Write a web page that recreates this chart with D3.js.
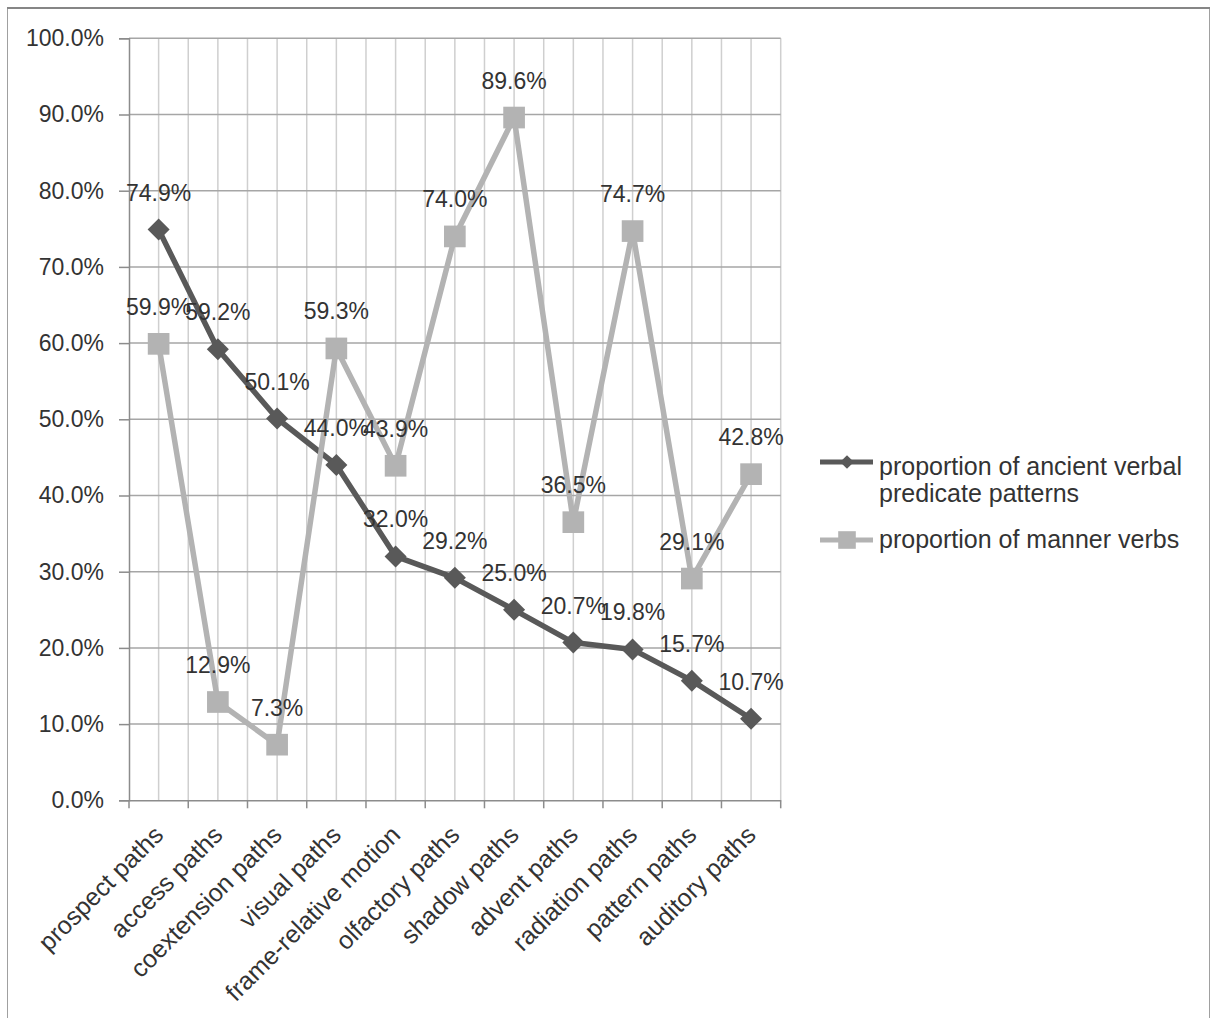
<!DOCTYPE html>
<html>
<head>
<meta charset="utf-8">
<script src="https://cdn.jsdelivr.net/npm/d3@7"></script>
<style>
  body { margin: 0; background: #fff; }
  text { font-family: "Liberation Sans", Arial, sans-serif; fill: #333; }
</style>
</head>
<body>
<script>
let categories = ["prospect paths", "access paths", "coextension paths", "visual paths",
  "frame-relative motion", "olfactory paths", "shadow paths", "advent paths",
  "radiation paths", "pattern paths", "auditory paths"]
let ancientVerbal = [74.9, 59.2, 50.1, 44.0, 32.0, 29.2, 25.0, 20.7, 19.8, 15.7, 10.7]
let mannerVerbs = [59.9, 12.9, 7.3, 59.3, 43.9, 74.0, 89.6, 36.5, 74.7, 29.1, 42.8]
let seriesNames = ["proportion of ancient verbal predicate patterns", "proportion of manner verbs"]
let yTicks = [0, 10, 20, 30, 40, 50, 60, 70, 80, 90, 100]

let width = 1211, height = 1018
let plotL = 129, plotR = 780.7, plotT = 38.3, plotB = 800.3

let svg = d3.select('body').append('svg').attr('width', width).attr('height', height)

// outer frame
svg.append('rect').attr('x', 7.5).attr('y', 8.5).attr('width', 1202).attr('height', 1020)
  .attr('fill', 'none').attr('stroke', '#a0a0a0').attr('stroke-width', 1)
svg.append('line').attr('x1', 7).attr('x2', 1210).attr('y1', 8).attr('y2', 8)
  .attr('stroke', '#868686').attr('stroke-width', 2)

let x = d3.scaleBand().domain(categories).range([plotL, plotR])
let y = d3.scaleLinear().domain([0, 100]).range([plotB, plotT])
let cx = d => x(d) + x.bandwidth() / 2

// vertical gridlines at boundaries and centers
let vlines = categories.map(c => x(c)).slice(1).concat([plotR]).concat(categories.map(cx))
svg.append('g').selectAll('line').data(vlines).enter().append('line')
  .attr('x1', d => d).attr('x2', d => d).attr('y1', plotT).attr('y2', plotB)
  .attr('stroke', '#cfcfcf').attr('stroke-width', 1.5)

// horizontal gridlines
svg.append('g').selectAll('line').data(yTicks.filter(t => t > 0)).enter().append('line')
  .attr('x1', plotL).attr('x2', plotR).attr('y1', d => y(d)).attr('y2', d => y(d))
  .attr('stroke', '#a6a6a6').attr('stroke-width', 1.5)

// y axis
let yAxis = svg.append('g').attr('transform', `translate(${plotL},0)`)
  .call(d3.axisLeft(y).tickValues(yTicks).tickSize(10).tickPadding(15).tickFormat(d => d.toFixed(1) + '%'))
yAxis.select('.domain').attr('stroke', '#8c8c8c').attr('stroke-width', 1.5)
yAxis.selectAll('.tick line').attr('stroke', '#8c8c8c').attr('stroke-width', 1.5)
yAxis.selectAll('text').attr('font-size', 23).attr('fill', '#333')
  .style('font-family', '"Liberation Sans", Arial, sans-serif')

// x axis
let xAxis = svg.append('g').attr('transform', `translate(0,${plotB})`)
  .call(d3.axisBottom(x).tickSize(0).tickFormat(''))
xAxis.select('.domain').attr('stroke', '#8c8c8c').attr('stroke-width', 1.5)
let xTickPos = categories.map(c => x(c)).concat([plotR])
svg.append('g').selectAll('line').data(xTickPos).enter().append('line')
  .attr('x1', d => d).attr('x2', d => d).attr('y1', plotB).attr('y2', plotB + 8)
  .attr('stroke', '#8c8c8c').attr('stroke-width', 1.5)

svg.append('g').selectAll('text').data(categories).enter().append('text')
  .attr('transform', d => `translate(${cx(d)},${plotB + 30}) rotate(-45)`)
  .attr('text-anchor', 'end').attr('dy', '0.35em')
  .attr('font-size', 25)
  .text(d => d)

let line = d3.line().x((d, i) => cx(categories[i])).y(d => y(d))

let diamond = d3.symbol().type(d3.symbolDiamond2)
let square = d3.symbol().type(d3.symbolSquare)

// dark series
svg.append('path').datum(ancientVerbal).attr('d', line)
  .attr('fill', 'none').attr('stroke', '#595959').attr('stroke-width', 5.5).attr('stroke-linejoin', 'round')
svg.append('g').selectAll('path').data(ancientVerbal).enter().append('path')
  .attr('d', diamond.size(310))
  .attr('transform', (d, i) => `translate(${cx(categories[i])},${y(d)})`)
  .attr('fill', '#595959')

// light series
svg.append('path').datum(mannerVerbs).attr('d', line)
  .attr('fill', 'none').attr('stroke', '#b3b3b3').attr('stroke-width', 5.5).attr('stroke-linejoin', 'round')
svg.append('g').selectAll('path').data(mannerVerbs).enter().append('path')
  .attr('d', square.size(470))
  .attr('transform', (d, i) => `translate(${cx(categories[i])},${y(d)})`)
  .attr('fill', '#b3b3b3')

// data labels
function labels(vals) {
  svg.append('g').selectAll('text').data(vals).enter().append('text')
    .attr('x', (d, i) => cx(categories[i]))
    .attr('y', d => y(d) - 29)
    .attr('text-anchor', 'middle').attr('font-size', 23)
    .text(d => d.toFixed(1) + '%')
}
labels(ancientVerbal)
labels(mannerVerbs)

// legend
let leg = svg.append('g')
leg.append('line').attr('x1', 820).attr('x2', 873).attr('y1', 462).attr('y2', 462)
  .attr('stroke', '#595959').attr('stroke-width', 5)
leg.append('path').attr('d', diamond.size(120)).attr('transform', 'translate(847,462)').attr('fill', '#595959')
leg.append('text').attr('x', 879).attr('y', 475).attr('font-size', 25).text('proportion of ancient verbal')
leg.append('text').attr('x', 879).attr('y', 502).attr('font-size', 25).text('predicate patterns')

leg.append('line').attr('x1', 820).attr('x2', 873).attr('y1', 540).attr('y2', 540)
  .attr('stroke', '#b3b3b3').attr('stroke-width', 5)
leg.append('path').attr('d', square.size(310)).attr('transform', 'translate(847,540)').attr('fill', '#b3b3b3')
leg.append('text').attr('x', 879).attr('y', 548).attr('font-size', 25).text(seriesNames[1])
</script>
</body>
</html>
